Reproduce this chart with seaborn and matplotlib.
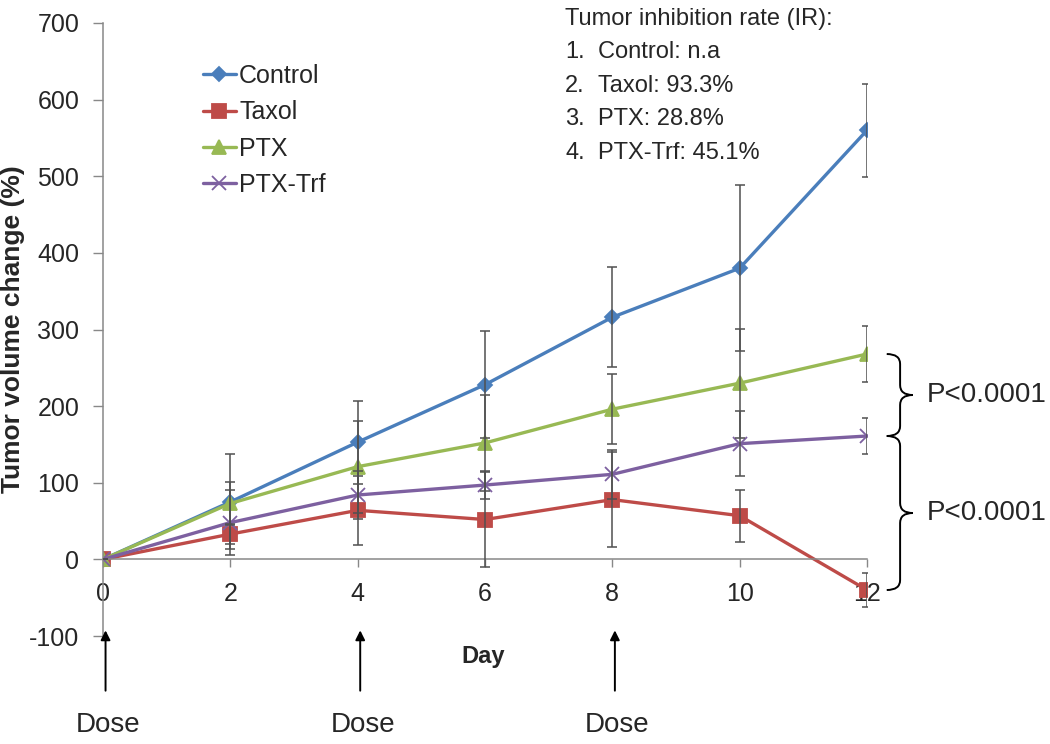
import numpy as np
import pandas as pd
import seaborn as sns
import matplotlib.pyplot as plt
from matplotlib.path import Path
from matplotlib.patches import PathPatch

# data (mean and SD per day)
days = [0, 2, 4, 6, 8, 10, 12]
groups = ["Control", "Taxol", "PTX", "PTX-Trf"]
control = [0, 75, 153, 228, 316, 380, 560]
control_sd = [0, 62, 54, 70, 65, 108, 61]
taxol = [0, 33, 64, 52, 78, 57, -40]
taxol_sd = [0, 13, 45, 62, 62, 34, 22]
ptx = [0, 73, 121, 152, 196, 230, 268]
ptx_sd = [0, 28, 60, 63, 46, 71, 37]
ptx_trf = [0, 48, 84, 97, 111, 151, 161]
ptx_trf_sd = [0, 42, 31, 18, 32, 42, 23]

dose_days = [0, 4, 8]
ir_title = "Tumor inhibition rate (IR):"
ir_lines = ["Control: n.a", "Taxol: 93.3%", "PTX: 28.8%", "PTX-Trf: 45.1%"]
p_label = "P<0.0001"

means = {"Control": control, "Taxol": taxol, "PTX": ptx, "PTX-Trf": ptx_trf}
sds = {"Control": control_sd, "Taxol": taxol_sd, "PTX": ptx_sd, "PTX-Trf": ptx_trf_sd}

colors = {"Control": "#4A7EBB", "Taxol": "#BE4B48", "PTX": "#98B954", "PTX-Trf": "#7D60A0"}
markers = {"Control": "D", "Taxol": "s", "PTX": "^", "PTX-Trf": "x"}
msizes = {"Control": 7.5, "Taxol": 10, "PTX": 10, "PTX-Trf": 10}

sns.set_style("white")
plt.rcParams["font.family"] = ["Liberation Sans", "DejaVu Sans"]
plt.rcParams["axes.unicode_minus"] = False

W, H = 1050, 744
fig = plt.figure(figsize=(W / 100, H / 100), dpi=100)
ax = fig.add_axes([103 / W, 1 - 636 / H, (867 - 103) / W, (636 - 23) / H])

for g in groups:
    sns.lineplot(x=days, y=means[g], ax=ax, color=colors[g], marker=markers[g],
                 markersize=msizes[g], markeredgecolor=colors[g], markeredgewidth=1.3,
                 linewidth=2.4, label=g, errorbar=None, zorder=2)
    ax.errorbar(days, means[g], yerr=sds[g], fmt="none", ecolor="#505050",
                elinewidth=1.1, capsize=3.6, capthick=1.1, zorder=3)

ax.set_xlim(0, 12)
ax.set_ylim(-100, 700)
ax.set_xticks(range(0, 13, 2))
ax.set_yticks(range(-100, 701, 100))

ax.spines["top"].set_visible(False)
ax.spines["right"].set_visible(False)
ax.spines["bottom"].set_position(("data", 0))
for s in ["left", "bottom"]:
    ax.spines[s].set_color("#888888")
    ax.spines[s].set_linewidth(1.1)
ax.tick_params(axis="x", direction="out", length=6, width=1, color="#888888",
               labelsize=18, pad=10, bottom=True)
ax.tick_params(axis="y", direction="out", length=7, width=1, color="#888888",
               labelsize=18, pad=10, left=True)

ax.set_ylabel("Tumor volume change (%)", fontsize=19, fontweight="bold")
ax.yaxis.set_label_coords(-0.102, 0.5)
ax.set_xlabel("Day", fontsize=17, fontweight="bold")
ax.xaxis.set_label_coords(0.497, -0.015)

leg = ax.legend(loc="upper left", bbox_to_anchor=(203 / W, 1 - 64 / H),
                bbox_transform=fig.transFigure, frameon=False, fontsize=18,
                handlelength=1.3, handletextpad=0.15, labelspacing=0.49,
                borderpad=0, borderaxespad=0)

# dose arrows under the axis
for d in dose_days:
    ax.annotate("", xy=(d + 0.04, -89), xytext=(d + 0.04, -175),
                arrowprops=dict(arrowstyle="-|>", color="black", lw=1.4, mutation_scale=14),
                annotation_clip=False)
    ax.text(d + 0.08, -216, "Dose", fontsize=20, ha="center", va="center", clip_on=False)

# inhibition rate text
fig.text(565 / W, 1 - 25 / H, ir_title, fontsize=17, va="baseline")
for i, line in enumerate(ir_lines):
    yb = 58 + i * 33.7
    fig.text(565 / W, 1 - yb / H, f"{i + 1}.", fontsize=17, va="baseline")
    fig.text(598 / W, 1 - yb / H, line, fontsize=17, va="baseline")


def brace(ytop, ybot, xl=12.31, xm=12.52, xt=12.72, r=13):
    ymid = (ytop + ybot) / 2
    verts = [(xl, ytop), (xm, ytop), (xm, ytop - r),
             (xm, ymid + r),
             (xm, ymid), (xt, ymid),
             (xm, ymid), (xm, ymid - r),
             (xm, ybot + r),
             (xm, ybot), (xl, ybot)]
    codes = [Path.MOVETO, Path.CURVE3, Path.CURVE3,
             Path.LINETO,
             Path.CURVE3, Path.CURVE3,
             Path.CURVE3, Path.CURVE3,
             Path.LINETO,
             Path.CURVE3, Path.CURVE3]
    ax.add_patch(PathPatch(Path(verts, codes), fill=False, lw=1.4, color="black", clip_on=False))
    ax.text(12.94, ymid, p_label, fontsize=20, va="center", ha="left", clip_on=False)


brace(ptx[-1], ptx_trf[-1])
brace(ptx_trf[-1], taxol[-1])

fig.savefig("out.png", dpi=100)
